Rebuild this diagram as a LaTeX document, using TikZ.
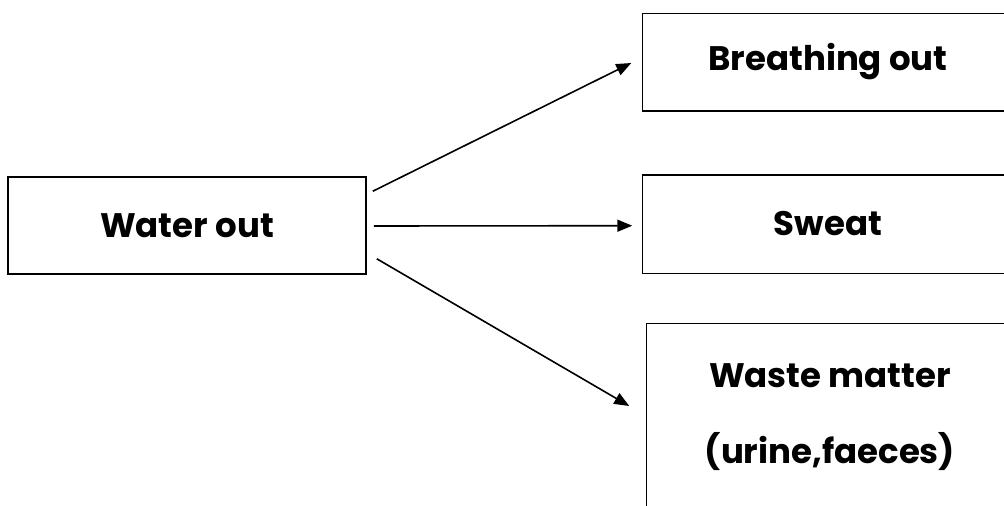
\documentclass[tikz,border=0pt]{standalone}
\usepackage{fontspec}
\setmainfont{Poppins}
\usetikzlibrary{arrows.meta}
\begin{document}
\begin{tikzpicture}[x=1pt,y=-1pt,
  box/.style={draw=black,line width=1.5pt,rectangle,inner sep=0pt,align=center,
    font=\fontsize{34}{76}\selectfont\bfseries},
  openbox/.style={box,draw=none},
  edge/.style={line width=1.5pt,line join=miter},
  arr/.style={line width=1.6pt,-{Triangle[length=15pt,width=12pt]}}]
\useasboundingbox (0,0) rectangle (1004,506);
\node[box,minimum width=358pt,minimum height=97pt] (water) at (187,225.5) {Water out};
\node[openbox,minimum width=370pt,minimum height=96pt] (breath) at (828,62) {Breathing out};
\node[openbox,minimum width=370pt,minimum height=97pt] (sweat) at (828,224) {Sweat};
\node[openbox,minimum width=366pt,minimum height=186pt] (waste) at (830,417) {Waste matter\\(urine,faeces)};
\draw[edge] (breath.north east) -- (breath.north west) -- (breath.south west) -- (breath.south east);
\draw[edge] (sweat.north east) -- (sweat.north west) -- (sweat.south west) -- (sweat.south east);
\draw[edge] (waste.north east) -- (waste.north west) -- (waste.south west);
\draw[arr] ([shift={(6,15)}]water.north east) -- ([shift={(-11,1)}]breath.west);
\draw[arr] ([shift={(7,0.5)}]water.east) -- ([shift={(-10,1.7)}]sweat.west);
\draw[arr] ([shift={(10,-16)}]water.south east) -- ([shift={(-17,-11)}]waste.west);
\end{tikzpicture}
\end{document}
